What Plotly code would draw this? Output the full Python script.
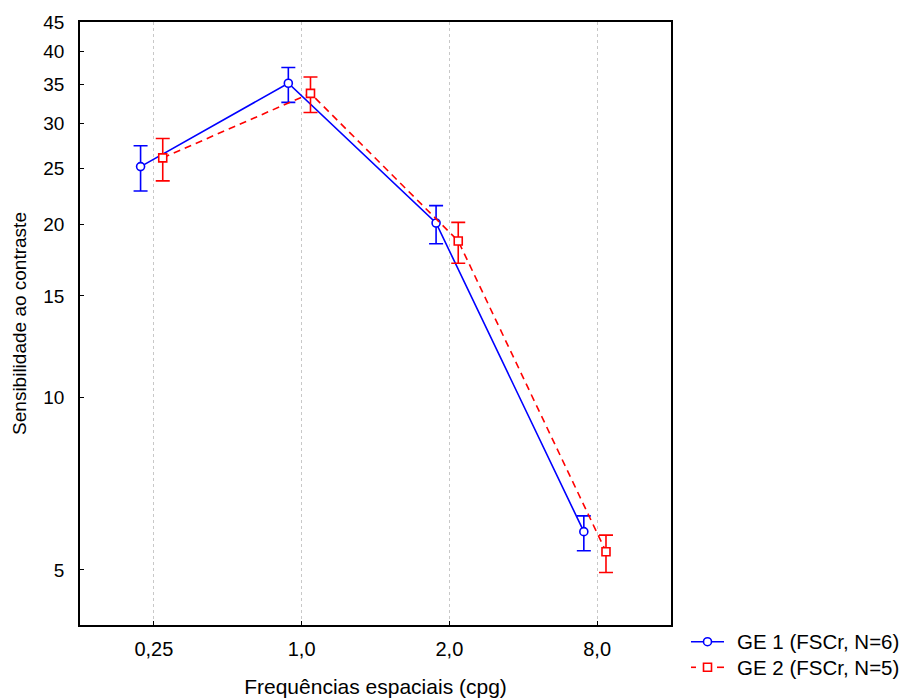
import numpy as np
import plotly.graph_objects as go

# Spatial frequency categories (cpg)
freq_labels = ["0,25", "1,0", "2,0", "8,0"]

# Group GE 1 (FSCr, N=6): mean contrast sensitivity and error bar limits
ge1_mean = [25.2, 35.2, 20.1, 5.83]
ge1_upper = [27.4, 37.5, 21.55, 6.21]
ge1_lower = [22.85, 32.6, 18.5, 5.40]

# Group GE 2 (FSCr, N=5)
ge2_mean = [26.1, 33.8, 18.7, 5.38]
ge2_upper = [28.2, 36.1, 20.15, 5.75]
ge2_lower = [23.8, 31.3, 17.1, 4.95]

series_names = ["GE 1 (FSCr, N=6)", "GE 2 (FSCr, N=5)"]
y_ticks = [5, 10, 15, 20, 25, 30, 35, 40, 45]

FONT = "Liberation Sans, Arial, sans-serif"
BLUE = "#0000ff"
RED = "#ff0000"
DASH = "7px,5px"

# plot-area geometry in pixels (used to place the hand-drawn legend)
W, H = 906, 698
ML, MR, MT, MB = 80, 235, 22, 73
PW, PH = W - ML - MR, H - MT - MB


def px(x):
    return (x - ML) / PW


def py(y):
    return (H - MB - y) / PH


idx = np.arange(len(freq_labels))


def err(mean, up, lo, color):
    m = np.array(mean)
    return dict(type="data", symmetric=False,
                array=list(np.array(up) - m), arrayminus=list(m - np.array(lo)),
                thickness=1.6, width=7, color=color)


fig = go.Figure()

fig.add_trace(go.Scatter(
    x=idx - 0.09, y=ge1_mean, mode="lines+markers",
    name=series_names[0], showlegend=False,
    line=dict(color=BLUE, width=1.6),
    marker=dict(symbol="circle", size=8, color="white", line=dict(width=1.6, color=BLUE)),
    error_y=err(ge1_mean, ge1_upper, ge1_lower, BLUE),
))

fig.add_trace(go.Scatter(
    x=idx + 0.06, y=ge2_mean, mode="lines+markers",
    name=series_names[1], showlegend=False,
    line=dict(color=RED, width=1.6, dash=DASH),
    marker=dict(symbol="square", size=8, color="white", line=dict(width=1.6, color=RED)),
    error_y=err(ge2_mean, ge2_upper, ge2_lower, RED),
))

fig.update_xaxes(
    range=[-0.5, 3.5], automargin=False,
    tickvals=list(idx), ticktext=freq_labels,
    ticks="inside", ticklen=4, tickcolor="black", tickwidth=1,
    showline=True, mirror=True, linecolor="black", linewidth=1.6,
    showgrid=True, gridcolor="#c8c8c8", griddash="dot", gridwidth=1,
    zeroline=False,
    tickfont=dict(family=FONT, size=20, color="black"),
    ticklabelstandoff=5,
    title=dict(text="Frequências espaciais (cpg)", standoff=22,
               font=dict(family=FONT, size=21, color="black")),
)

fig.update_yaxes(
    type="log", automargin=False,
    range=[np.log10(4.01), np.log10(45)],
    tickvals=y_ticks, ticktext=[str(v) for v in y_ticks],
    ticks="inside", ticklen=4, tickcolor="black", tickwidth=1,
    showline=True, mirror=True, linecolor="black", linewidth=1.6,
    showgrid=False, zeroline=False,
    tickfont=dict(family=FONT, size=19, color="black"),
    ticklabelstandoff=10,
    title=dict(text="Sensibilidade ao contraste", standoff=12,
               font=dict(family=FONT, size=19, color="black")),
)

# Legend: line samples with markers and labels below-right of the plot
shapes = []
annotations = []
rows = [641.7, 667.3]
x0, x1, xc = 691, 724, 707.5
# GE 1: solid line with open circle
shapes.append(dict(type="line", xref="paper", yref="paper",
                   x0=px(x0), x1=px(x1), y0=py(rows[0]), y1=py(rows[0]),
                   line=dict(color=BLUE, width=1.6)))
shapes.append(dict(type="circle", xref="paper", yref="paper",
                   x0=px(xc - 4), x1=px(xc + 4), y0=py(rows[0] + 4), y1=py(rows[0] - 4),
                   line=dict(color=BLUE, width=1.6), fillcolor="white"))
# GE 2: dashed line with open square
shapes.append(dict(type="line", xref="paper", yref="paper",
                   x0=px(x0), x1=px(696), y0=py(rows[1]), y1=py(rows[1]),
                   line=dict(color=RED, width=1.6)))
shapes.append(dict(type="line", xref="paper", yref="paper",
                   x0=px(717), x1=px(x1), y0=py(rows[1]), y1=py(rows[1]),
                   line=dict(color=RED, width=1.6)))
shapes.append(dict(type="rect", xref="paper", yref="paper",
                   x0=px(xc - 4), x1=px(xc + 4), y0=py(rows[1] + 4), y1=py(rows[1] - 4),
                   line=dict(color=RED, width=1.6), fillcolor="white"))
for name, ry in zip(series_names, rows):
    annotations.append(dict(text=name, xref="paper", yref="paper",
                            x=px(735), y=py(ry), xanchor="left", yanchor="middle",
                            showarrow=False,
                            font=dict(family=FONT, size=20.5, color="black")))

fig.update_layout(
    width=W, height=H,
    margin=dict(l=ML, r=MR, t=MT, b=MB),
    paper_bgcolor="white", plot_bgcolor="white",
    font=dict(family=FONT, size=19, color="black"),
    showlegend=False,
    shapes=shapes, annotations=annotations,
)

fig.write_html("out.html")
